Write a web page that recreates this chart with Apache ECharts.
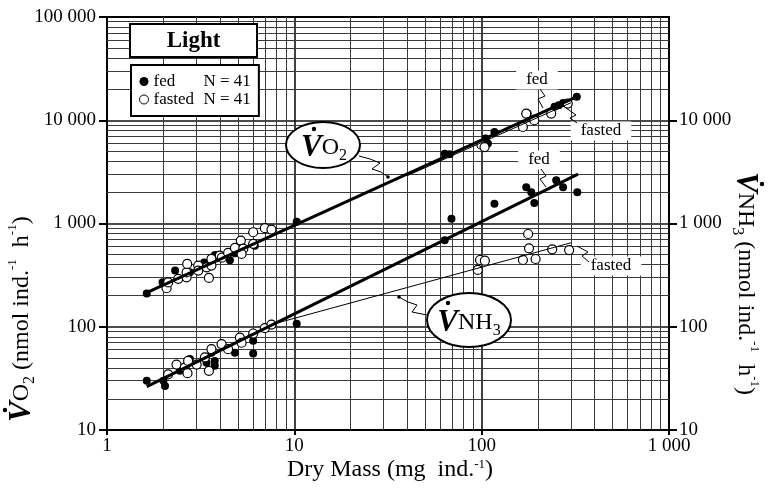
<!DOCTYPE html>
<html>
<head>
<meta charset="utf-8">
<script src="https://cdn.jsdelivr.net/npm/echarts@6/dist/echarts.min.js"></script>
<style>
html, body { margin: 0; padding: 0; background: #fff; }
#chart { width: 768px; height: 494px; }
</style>
</head>
<body>
<div id="chart"></div>
<script>
// dry mass (mg ind.-1) vs rate (nmol ind.-1 h-1)
const vo2Fed = [
  [1.63, 210], [1.98, 270], [2.31, 350], [2.77, 337], [3.3, 420], [3.69, 470],
  [3.77, 495], [4.53, 440], [4.82, 515], [4.92, 590], [5.08, 515], [6.15, 610],
  [10.3, 1040], [63.5, 4750], [67.5, 4680], [105, 6640], [108, 5940], [117, 7700],
  [176, 11600], [191, 10400], [245, 13500], [258, 14000], [272, 14700], [322, 16900]
];
const vo2Fasted = [
  [2.08, 236], [2.12, 269], [2.40, 291], [2.66, 301], [2.66, 336], [2.68, 406],
  [3.07, 391], [3.07, 350], [3.40, 376], [3.50, 297], [3.61, 391], [3.61, 454],
  [4.00, 489], [4.1, 467], [4.43, 520], [4.82, 580], [5.18, 683], [5.34, 570],
  [5.23, 507], [6.03, 823], [6.03, 635], [6.96, 900], [7.55, 874],
  [99.6, 5800], [103.6, 5500], [166, 8600], [173, 11600], [191, 10000], [235, 11600], [288, 14500]
];
const nh3Fed = [
  [1.63, 30], [2.00, 30], [2.04, 26.7], [2.45, 37.4], [2.77, 48.6], [3.40, 44.9],
  [3.61, 56], [3.76, 46.7], [3.76, 41.8], [4.82, 56], [6.03, 73], [6.03, 55],
  [10.3, 107], [63.5, 690], [69, 1110], [117, 1550], [173, 2250], [184, 2010],
  [191, 1580], [250, 2620], [272, 2250], [324, 2010]
];
const nh3Fasted = [
  [2.12, 34.6], [2.35, 43], [2.60, 40.2], [2.69, 35.5], [2.71, 46.7], [3.01, 43],
  [3.33, 50.5], [3.50, 37.4], [3.61, 60.7], [4.09, 67.9], [4.43, 60.7], [5.12, 78.5],
  [5.23, 70], [6.03, 86], [6.96, 97], [7.55, 105],
  [95.3, 355], [98, 443], [104, 436], [166, 443], [177, 791], [179, 575], [194, 453],
  [238, 562], [293, 553]
];
// regression lines (end points)
const vo2FedFit = [[1.63, 214], [325, 17000]];
const vo2FastedFit = [[40, 2900], [300, 14800]];
const nh3FedFit = [[1.63, 26.3], [327, 3010]];
const nh3FastedFit = [[7.7, 106], [301, 652]];

// axis ticks and minor grid positions
const rightTicks = [10, 100, 1000, 10000];
const minorMass = [2, 3, 4, 5, 6, 7, 8, 9, 20, 30, 40, 50, 60, 70, 80, 90,
  200, 300, 400, 500, 600, 700, 800, 900];
const minorRate = [20, 30, 40, 50, 60, 70, 80, 90, 200, 300, 400, 500, 600, 700, 800, 900,
  2000, 3000, 4000, 5000, 6000, 7000, 8000, 9000, 20000, 30000, 40000, 50000, 60000, 70000, 80000, 90000];

const FONT = 'Liberation Serif';
const fmt = (v) => String(Math.round(v)).replace(/\B(?=(\d{3})+(?!\d))/g, ' ');

const chart = echarts.init(document.getElementById('chart'));

const fedStyle = { color: '#000', opacity: 1 };
const fastedStyle = { color: '#fff', borderColor: '#000', borderWidth: 1.2, opacity: 1 };

// rich styles for titles
const titleRich = {
  v: { fontFamily: FONT, fontSize: 31, fontStyle: 'italic', fontWeight: 'bold', color: '#000' },
  o: { fontFamily: FONT, fontSize: 24, color: '#000' },
  sub: { fontFamily: FONT, fontSize: 16, color: '#000', verticalAlign: 'bottom', lineHeight: 14 },
  t: { fontFamily: FONT, fontSize: 24, color: '#000' },
  sup: { fontFamily: FONT, fontSize: 13, color: '#000', verticalAlign: 'top', lineHeight: 14 }
};

function squiggle(points, arrow) {
  const els = [{
    type: 'polyline', z: 100, silent: true,
    shape: { points: points },
    style: { stroke: '#000', lineWidth: 1, fill: null }
  }];
  if (arrow) {
    els.push({ type: 'circle', z: 100, silent: true, shape: { cx: arrow[0], cy: arrow[1], r: 1.8 }, style: { fill: '#000' } });
  }
  return els;
}

function noteLabel(text, x, y) {
  return {
    type: 'text', z: 100, silent: true, x: x, y: y,
    style: {
      text: text, fontFamily: FONT, fontSize: 17, fill: '#000',
      align: 'center', verticalAlign: 'middle',
      backgroundColor: '#fff', padding: [1, 10]
    }
  };
}

const option = {
  animation: false,
  backgroundColor: '#fff',
  grid: { left: 107, right: 99, top: 17, bottom: 64 },
  legend: {
    left: 131, top: 65,
    orient: 'vertical',
    selectedMode: false,
    padding: [8, 8, 8, 8],
    itemGap: 1,
    itemWidth: 9, itemHeight: 9,
    borderColor: '#000', borderWidth: 2, backgroundColor: '#fff',
    z: 100,
    data: [
      { name: 'fed', icon: 'circle', itemStyle: { color: '#000', opacity: 1 } },
      { name: 'fasted', icon: 'circle', itemStyle: { color: '#fff', borderColor: '#000', borderWidth: 1, opacity: 1 } }
    ],
    formatter: (name) => '{n|' + name + '}{c|N = 41}',
    textStyle: {
      fontFamily: FONT, fontSize: 17, color: '#000',
      rich: {
        n: { fontFamily: FONT, fontSize: 17, width: 50, lineHeight: 20 },
        c: { fontFamily: FONT, fontSize: 17, lineHeight: 20 }
      }
    }
  },
  xAxis: [{
    type: 'log', logBase: 10, min: 1, max: 1000,
    axisLine: { lineStyle: { color: '#000', width: 2 } },
    axisTick: { show: true, length: 5, lineStyle: { color: '#000', width: 2 } },
    axisLabel: { fontFamily: FONT, fontSize: 19, color: '#000', margin: 7, formatter: fmt },
    splitLine: { show: true, lineStyle: { color: '#111', width: 1.6 } }
  }, {
    type: 'log', logBase: 10, min: 1, max: 1000, position: 'top',
    axisLine: { lineStyle: { color: '#000', width: 2 } },
    axisTick: { show: false }, axisLabel: { show: false }, splitLine: { show: false }
  }],
  yAxis: [{
    type: 'log', logBase: 10, min: 10, max: 100000,
    axisLine: { show: true, lineStyle: { color: '#000', width: 2 } },
    axisTick: { show: true, length: 8, lineStyle: { color: '#000', width: 2 } },
    axisLabel: { fontFamily: FONT, fontSize: 19, color: '#000', margin: 11, formatter: fmt },
    splitLine: { show: true, lineStyle: { color: '#111', width: 1.6 } }
  }, {
    type: 'log', logBase: 10, min: 10, max: 100000, position: 'right',
    axisLine: { show: true, lineStyle: { color: '#000', width: 2 } },
    axisTick: { show: true, length: 8, customValues: rightTicks, lineStyle: { color: '#000', width: 2 } },
    axisLabel: {
      fontFamily: FONT, fontSize: 19, color: '#000', margin: 10,
      customValues: rightTicks, formatter: fmt
    },
    splitLine: { show: false }
  }],
  series: [
    {
      name: 'grid', type: 'line', data: [], silent: true, z: 1,
      markLine: {
        silent: true, symbol: 'none', z: 1, animation: false,
        label: { show: false },
        emphasis: { disabled: true },
        lineStyle: { color: '#3a3a3a', width: 1, type: 'solid' },
        data: minorMass.map((v) => ({ xAxis: v })).concat(minorRate.map((v) => ({ yAxis: v })))
      }
    },
    { name: 'fed', type: 'scatter', data: vo2Fed, symbolSize: 8, itemStyle: fedStyle, z: 6 },
    { name: 'fed', type: 'scatter', data: nh3Fed, symbolSize: 8, itemStyle: fedStyle, z: 6 },
    { name: 'fasted', type: 'scatter', data: vo2Fasted, symbolSize: 9, itemStyle: fastedStyle, z: 7 },
    { name: 'fasted', type: 'scatter', data: nh3Fasted, symbolSize: 9, itemStyle: fastedStyle, z: 7 },
    { name: 'VO2 fed fit', type: 'line', data: vo2FedFit, symbol: 'none', silent: true, z: 8, lineStyle: { color: '#000', width: 3 } },
    { name: 'VO2 fasted fit', type: 'line', data: vo2FastedFit, symbol: 'none', silent: true, z: 8, lineStyle: { color: '#000', width: 1 } },
    { name: 'NH3 fed fit', type: 'line', data: nh3FedFit, symbol: 'none', silent: true, z: 8, lineStyle: { color: '#000', width: 3 } },
    { name: 'NH3 fasted fit', type: 'line', data: nh3FastedFit, symbol: 'none', silent: true, z: 8, lineStyle: { color: '#000', width: 1 } }
  ],
  graphic: [
    // "Light" box
    { type: 'rect', z: 100, silent: true, shape: { x: 130, y: 24, width: 127, height: 33 }, style: { fill: '#fff', stroke: '#000', lineWidth: 2 } },
    { type: 'text', z: 101, silent: true, x: 193.5, y: 41, style: { text: 'Light', fontFamily: FONT, fontSize: 23, fontWeight: 'bold', fill: '#000', align: 'center', verticalAlign: 'middle' } },
    // VO2 bubble
    { type: 'ellipse', z: 100, silent: true, shape: { cx: 323, cy: 145, rx: 37, ry: 23 }, style: { fill: '#fff', stroke: '#000', lineWidth: 2 } },
    { type: 'text', z: 101, silent: true, x: 324, y: 148, style: { text: '{v|V}{o|O}{sub|2}', rich: titleRich, align: 'center', verticalAlign: 'middle' } },
    { type: 'circle', z: 101, silent: true, shape: { cx: 314, cy: 129, r: 2.2 }, style: { fill: '#000' } },
    ...squiggle([[359, 156], [370, 159], [380, 163], [372, 169], [381, 172], [388, 177]], [388, 177]),
    // NH3 bubble
    { type: 'ellipse', z: 100, silent: true, shape: { cx: 469, cy: 320, rx: 42, ry: 27 }, style: { fill: '#fff', stroke: '#000', lineWidth: 2 } },
    { type: 'text', z: 101, silent: true, x: 469, y: 323, style: { text: '{v|V}{o|NH}{sub|3}', rich: titleRich, align: 'center', verticalAlign: 'middle' } },
    { type: 'circle', z: 101, silent: true, shape: { cx: 448, cy: 303, r: 2.2 }, style: { fill: '#000' } },
    ...squiggle([[427, 315], [412, 312], [417, 305], [408, 302], [399, 297]], [399, 297]),
    // fed / fasted notes
    noteLabel('fed', 537, 80),
    ...squiggle([[540, 89], [545, 96], [538, 99], [543, 108]]),
    noteLabel('fasted', 601, 131),
    ...squiggle([[577, 123], [570, 118], [576, 115], [566, 108]]),
    noteLabel('fed', 539, 160),
    ...squiggle([[541, 169], [546, 176], [540, 179], [546, 187]]),
    noteLabel('fasted', 611, 266),
    ...squiggle([[589, 262], [582, 256], [588, 252], [577, 246]]),
    // axis titles
    {
      type: 'text', z: 100, silent: true, x: 390, y: 470,
      style: {
        text: '{t|Dry Mass (mg  ind.}{sup|-1}{t|)}', rich: titleRich,
        align: 'center', verticalAlign: 'middle'
      }
    },
    {
      type: 'group', x: 22, y: 300, rotation: Math.PI / 2,
      children: [
        {
          type: 'text', z: 100, silent: true, x: -122, y: 0,
          style: {
            text: '{v|V}{o|O}{sub|2}{t| (nmol ind.}{sup|-1}{t|  h}{sup|-1}{t|)}', rich: titleRich,
            align: 'left', verticalAlign: 'middle'
          }
        },
        { type: 'circle', z: 100, silent: true, shape: { cx: -110, cy: -17, r: 2.2 }, style: { fill: '#000' } }
      ]
    },
    {
      type: 'group', x: 745, y: 172, rotation: -Math.PI / 2,
      children: [
        {
          type: 'text', z: 100, silent: true, x: 0, y: 0,
          style: {
            text: '{v|V}{o|NH}{sub|3}{t| (nmol ind.}{sup|-1}{t|  h}{sup|-1}{t|)}', rich: titleRich,
            align: 'left', verticalAlign: 'middle'
          }
        },
        { type: 'circle', z: 100, silent: true, shape: { cx: 12, cy: -17, r: 2.2 }, style: { fill: '#000' } }
      ]
    }
  ]
};

chart.setOption(option);
</script>
</body>
</html>
